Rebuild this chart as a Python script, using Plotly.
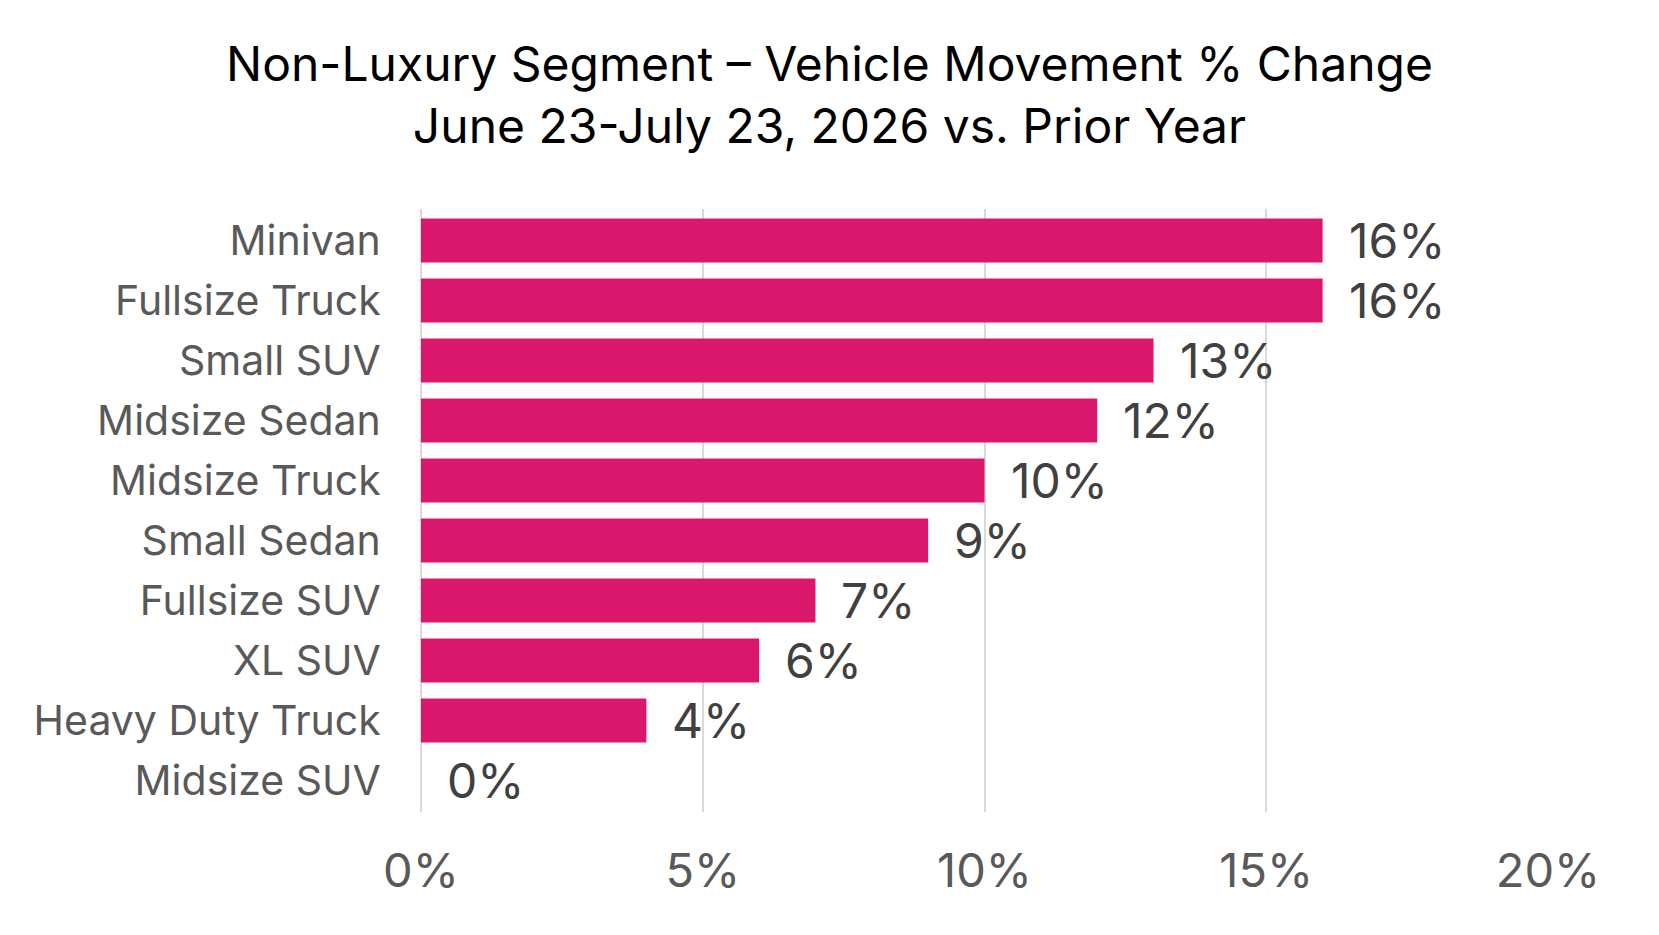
import plotly.graph_objects as go

categories = ["Minivan", "Fullsize Truck", "Small SUV", "Midsize Sedan", "Midsize Truck",
              "Small Sedan", "Fullsize SUV", "XL SUV", "Heavy Duty Truck", "Midsize SUV"]
values = [16, 16, 13, 12, 10, 9, 7, 6, 4, 0]
tick_vals = [0, 5, 10, 15, 20]
tick_text = ["0%", "5%", "10%", "15%", "20%"]
title_lines = ["Non-Luxury Segment \u2013 Vehicle Movement % Change",
               "June 23-July 23, 2026 vs. Prior Year"]

BAR = "#D9186C"
FONT = "Inter"

fig = go.Figure()
fig.add_trace(go.Bar(
    x=values, y=categories, orientation="h",
    marker=dict(color=BAR, line=dict(width=0)),
    hoverinfo="skip",
))

for c, v in zip(categories, values):
    fig.add_annotation(
        x=v, y=c, xref="x", yref="y", text=f"{v}%",
        xanchor="left", yanchor="middle", xshift=24, showarrow=False,
        font=dict(family=FONT, size=48, color="#404040"),
    )

fig.update_layout(
    width=1659, height=935,
    margin=dict(l=421, r=111, t=209, b=123),
    paper_bgcolor="white", plot_bgcolor="white",
    showlegend=False,
    bargap=0.27,
    title=dict(
        text="<br>".join(title_lines),
        x=0.5, xanchor="center", xref="container",
        y=1 - 81 / 935, yanchor="middle", yref="container",
        font=dict(family=FONT, size=48, color="#000000"),
    ),
    xaxis=dict(
        range=[0, 20], tickvals=tick_vals, ticktext=tick_text,
        showgrid=True, gridcolor="#d9d9d9", gridwidth=2,
        zeroline=True, zerolinecolor="#d9d9d9", zerolinewidth=2,
        showline=False,
        ticks="outside", ticklen=18, tickcolor="rgba(0,0,0,0)",
        tickfont=dict(family=FONT, size=47, color="#595959"),
        fixedrange=True,
    ),
    yaxis=dict(
        categoryorder="array", categoryarray=categories[::-1],
        showgrid=False, zeroline=False, showline=False,
        ticks="outside", ticklen=31, tickcolor="rgba(0,0,0,0)",
        tickfont=dict(family=FONT, size=41, color="#595959"),
        fixedrange=True,
    ),
)

fig.write_html("out.html")
